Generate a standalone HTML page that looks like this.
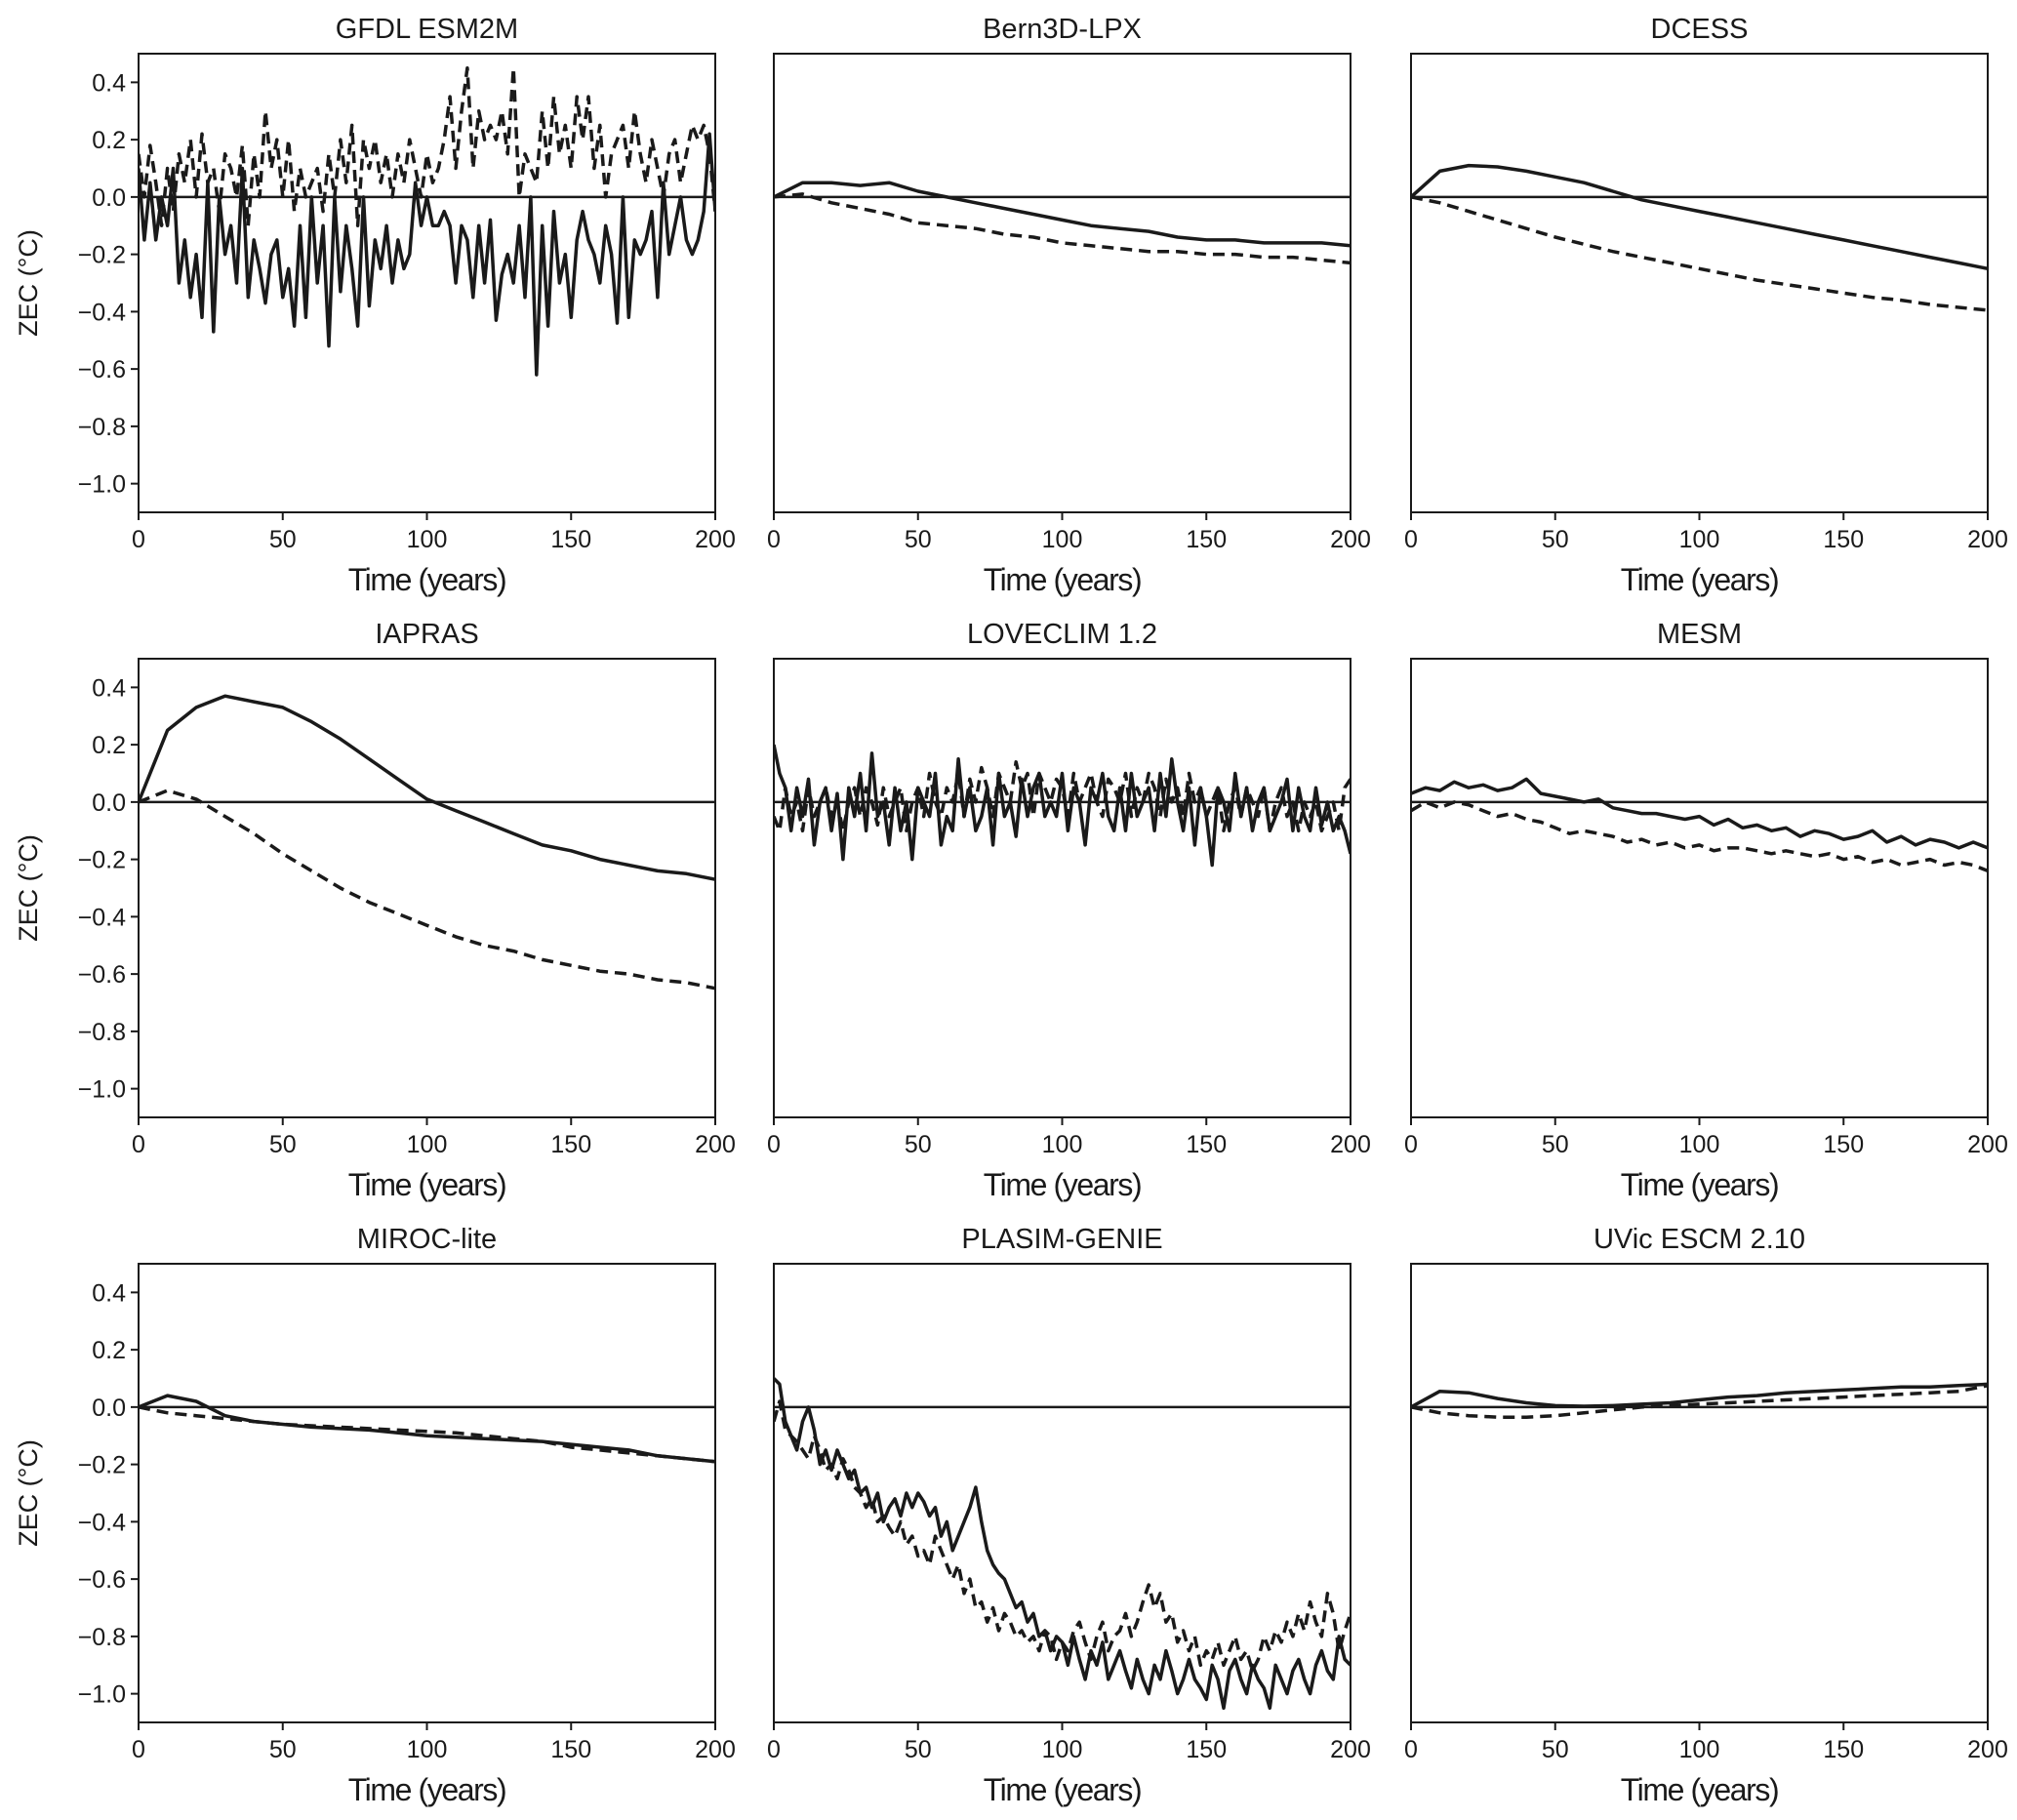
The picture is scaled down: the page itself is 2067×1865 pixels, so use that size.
<!DOCTYPE html>
<html><head><meta charset="utf-8">
<style>
html,body{margin:0;padding:0;background:#fff;}
svg{display:block;font-family:"Liberation Sans",sans-serif;}
</style></head>
<body>
<svg id="fig" width="2067" height="1865" viewBox="0 0 2067 1865" xmlns="http://www.w3.org/2000/svg"></svg>
<script>
const xTicks=[0,50,100,150,200];
const yTicks=[0.4,0.2,0.0,-0.2,-0.4,-0.6,-0.8,-1.0];
const yTickLabels=["0.4","0.2","0.0","\u22120.2","\u22120.4","\u22120.6","\u22120.8","\u22121.0"];
const panelTitles=["GFDL ESM2M","Bern3D-LPX","DCESS","IAPRAS","LOVECLIM 1.2","MESM","MIROC-lite","PLASIM-GENIE","UVic ESCM 2.10"];
const gfdlSolid=[0.1,-0.15,0.05,-0.15,0.0,-0.1,0.1,-0.3,-0.15,-0.35,-0.2,-0.42,0.05,-0.47,0.0,-0.2,-0.1,-0.3,0.1,-0.35,-0.15,-0.25,-0.37,-0.2,-0.15,-0.35,-0.25,-0.45,-0.1,-0.42,0.0,-0.3,-0.1,-0.52,0.0,-0.33,-0.1,-0.25,-0.45,0.0,-0.38,-0.15,-0.25,-0.1,-0.3,-0.15,-0.25,-0.2,0.05,-0.1,0.0,-0.1,-0.1,-0.05,-0.1,-0.3,-0.1,-0.15,-0.35,-0.1,-0.3,-0.08,-0.43,-0.27,-0.2,-0.3,-0.1,-0.35,0.0,-0.62,-0.1,-0.45,-0.05,-0.3,-0.2,-0.42,-0.15,-0.05,-0.15,-0.2,-0.3,-0.1,-0.2,-0.44,0.0,-0.42,-0.15,-0.2,-0.15,-0.05,-0.35,0.05,-0.2,-0.1,0.0,-0.15,-0.2,-0.15,-0.05,0.22,-0.05];
const gfdlDashed=[0.15,0.0,0.18,0.05,-0.1,0.1,-0.05,0.15,0.05,0.2,0.0,0.22,0.05,0.1,-0.05,0.15,0.1,0.0,0.18,-0.1,0.15,0.0,0.3,0.1,0.2,0.0,0.2,-0.05,0.1,0.0,0.05,0.1,-0.05,0.15,0.0,0.2,0.05,0.25,-0.1,0.2,0.1,0.2,0.05,0.15,0.0,0.15,0.05,0.2,0.1,0.0,0.15,0.05,0.1,0.2,0.35,0.1,0.3,0.45,0.1,0.3,0.2,0.25,0.2,0.3,0.15,0.45,0.0,0.15,0.1,0.05,0.3,0.1,0.35,0.15,0.25,0.1,0.35,0.2,0.35,0.1,0.25,0.0,0.15,0.2,0.25,0.1,0.3,0.15,0.05,0.2,0.1,0.0,0.15,0.2,0.05,0.15,0.25,0.2,0.25,0.15,-0.05];
const bernSolid=[0,0.05,0.05,0.04,0.05,0.02,0.0,-0.02,-0.04,-0.06,-0.08,-0.1,-0.11,-0.12,-0.14,-0.15,-0.15,-0.16,-0.16,-0.16,-0.17];
const bernDashed=[0,0.01,-0.02,-0.04,-0.06,-0.09,-0.1,-0.11,-0.13,-0.14,-0.16,-0.17,-0.18,-0.19,-0.19,-0.2,-0.2,-0.21,-0.21,-0.22,-0.23];
const dcessSolid=[0,0.09,0.11,0.105,0.09,0.07,0.05,0.02,-0.01,-0.03,-0.05,-0.07,-0.09,-0.11,-0.13,-0.15,-0.17,-0.19,-0.21,-0.23,-0.25];
const dcessDashed=[0,-0.02,-0.05,-0.08,-0.11,-0.14,-0.165,-0.19,-0.21,-0.23,-0.25,-0.27,-0.29,-0.305,-0.32,-0.335,-0.35,-0.36,-0.375,-0.385,-0.395];
const iaprasSolid=[0,0.25,0.33,0.37,0.35,0.33,0.28,0.22,0.15,0.08,0.01,-0.03,-0.07,-0.11,-0.15,-0.17,-0.2,-0.22,-0.24,-0.25,-0.27];
const iaprasDashed=[0,0.04,0.01,-0.05,-0.11,-0.18,-0.24,-0.3,-0.35,-0.39,-0.43,-0.47,-0.5,-0.52,-0.55,-0.57,-0.59,-0.6,-0.62,-0.63,-0.65];
const loveSolid=[0.2,0.1,0.05,-0.1,0.05,-0.05,0.08,-0.15,0.0,0.05,-0.1,0.03,-0.2,0.05,-0.05,0.1,-0.1,0.17,-0.05,0.0,-0.15,0.05,-0.1,0.0,-0.2,0.05,0.0,-0.05,0.1,-0.15,-0.05,-0.1,0.15,-0.05,0.05,-0.1,-0.05,0.05,-0.15,0.1,-0.05,0.0,-0.12,0.08,-0.05,0.05,0.1,-0.05,0.0,-0.05,0.1,-0.1,0.05,0.0,-0.15,0.05,0.0,0.1,-0.05,-0.1,0.05,-0.1,0.1,-0.05,0.0,0.05,-0.1,0.1,-0.05,0.15,0.0,-0.1,0.05,-0.15,0.05,-0.05,-0.22,0.05,0.0,-0.1,0.1,-0.05,0.05,-0.1,0.0,0.05,-0.1,-0.05,0.0,0.08,-0.1,0.05,-0.05,-0.1,0.05,-0.08,0.0,-0.1,-0.05,-0.1,-0.18];
const loveDashed=[-0.05,-0.1,0.05,-0.05,0.0,-0.1,0.05,-0.05,0.0,0.05,-0.05,0.0,-0.1,0.0,0.05,-0.05,0.05,0.0,-0.08,0.05,-0.05,0.0,0.05,-0.1,0.0,0.05,-0.05,0.1,0.0,-0.05,0.05,0.0,0.1,-0.05,0.08,0.0,0.12,0.05,-0.05,0.1,0.05,0.0,0.14,0.05,0.1,-0.05,0.1,0.05,0.0,0.08,0.05,-0.05,0.1,0.0,0.05,0.1,0.0,-0.05,0.08,0.05,0.0,0.1,-0.05,0.05,0.0,0.1,0.05,-0.05,0.08,0.0,0.05,-0.05,0.1,0.0,0.05,-0.05,0.0,0.05,-0.1,0.0,0.05,-0.05,0.05,0.0,-0.05,0.05,-0.1,0.0,0.05,-0.05,0.0,-0.1,0.0,-0.05,0.0,-0.1,-0.05,0.0,-0.1,0.05,0.08];
const mesmSolid=[0.03,0.05,0.04,0.07,0.05,0.06,0.04,0.05,0.08,0.03,0.02,0.01,0.0,0.01,-0.02,-0.03,-0.04,-0.04,-0.05,-0.06,-0.05,-0.08,-0.06,-0.09,-0.08,-0.1,-0.09,-0.12,-0.1,-0.11,-0.13,-0.12,-0.1,-0.14,-0.12,-0.15,-0.13,-0.14,-0.16,-0.14,-0.16];
const mesmDashed=[-0.03,0.0,-0.02,0.0,-0.01,-0.03,-0.05,-0.04,-0.06,-0.07,-0.09,-0.11,-0.1,-0.11,-0.12,-0.14,-0.13,-0.15,-0.14,-0.16,-0.15,-0.17,-0.16,-0.16,-0.17,-0.18,-0.17,-0.18,-0.19,-0.18,-0.2,-0.19,-0.21,-0.2,-0.22,-0.21,-0.2,-0.22,-0.21,-0.22,-0.24];
const mirocSolid=[0,0.04,0.02,-0.03,-0.05,-0.06,-0.07,-0.075,-0.08,-0.09,-0.1,-0.105,-0.11,-0.115,-0.12,-0.13,-0.14,-0.15,-0.17,-0.18,-0.19];
const mirocDashed=[0,-0.02,-0.03,-0.04,-0.05,-0.06,-0.065,-0.07,-0.075,-0.08,-0.085,-0.09,-0.1,-0.11,-0.12,-0.14,-0.15,-0.16,-0.17,-0.18,-0.19];
const plasimSolid=[0.1,0.08,-0.05,-0.1,-0.15,-0.05,0.0,-0.08,-0.2,-0.15,-0.22,-0.15,-0.2,-0.25,-0.22,-0.3,-0.28,-0.35,-0.3,-0.4,-0.35,-0.32,-0.38,-0.3,-0.35,-0.3,-0.33,-0.38,-0.35,-0.45,-0.4,-0.5,-0.45,-0.4,-0.35,-0.28,-0.4,-0.5,-0.55,-0.58,-0.6,-0.65,-0.7,-0.68,-0.75,-0.72,-0.8,-0.78,-0.85,-0.8,-0.82,-0.9,-0.8,-0.88,-0.95,-0.85,-0.9,-0.82,-0.95,-0.9,-0.85,-0.92,-0.98,-0.88,-0.95,-1.0,-0.9,-0.95,-0.85,-0.92,-1.0,-0.95,-0.88,-0.95,-0.98,-1.02,-0.9,-0.95,-1.05,-0.92,-0.88,-0.95,-1.0,-0.9,-0.95,-0.98,-1.05,-0.9,-0.95,-1.0,-0.92,-0.88,-0.95,-1.0,-0.9,-0.85,-0.92,-0.95,-0.8,-0.88,-0.9];
const plasimDashed=[-0.05,0.02,-0.08,-0.1,-0.12,-0.15,-0.18,-0.1,-0.15,-0.22,-0.2,-0.25,-0.18,-0.22,-0.28,-0.3,-0.35,-0.32,-0.4,-0.38,-0.42,-0.45,-0.4,-0.48,-0.45,-0.52,-0.5,-0.55,-0.45,-0.5,-0.55,-0.6,-0.55,-0.65,-0.6,-0.7,-0.68,-0.75,-0.7,-0.78,-0.72,-0.75,-0.8,-0.78,-0.82,-0.8,-0.85,-0.78,-0.8,-0.88,-0.82,-0.85,-0.78,-0.75,-0.82,-0.88,-0.8,-0.75,-0.85,-0.8,-0.78,-0.72,-0.8,-0.75,-0.68,-0.62,-0.7,-0.65,-0.75,-0.72,-0.82,-0.78,-0.85,-0.8,-0.9,-0.85,-0.88,-0.82,-0.9,-0.85,-0.8,-0.88,-0.85,-0.92,-0.88,-0.8,-0.85,-0.78,-0.82,-0.75,-0.8,-0.72,-0.78,-0.68,-0.75,-0.8,-0.65,-0.72,-0.85,-0.78,-0.72];
const uvicSolid=[0,0.055,0.05,0.03,0.015,0.005,0.003,0.005,0.01,0.015,0.025,0.035,0.04,0.05,0.055,0.06,0.065,0.07,0.07,0.075,0.08];
const uvicDashed=[0,-0.02,-0.03,-0.035,-0.035,-0.03,-0.02,-0.01,0.0,0.005,0.01,0.015,0.02,0.025,0.03,0.035,0.04,0.045,0.05,0.055,0.075];
const solidSeries=[gfdlSolid,bernSolid,dcessSolid,iaprasSolid,loveSolid,mesmSolid,mirocSolid,plasimSolid,uvicSolid];
const dashedSeries=[gfdlDashed,bernDashed,dcessDashed,iaprasDashed,loveDashed,mesmDashed,mirocDashed,plasimDashed,uvicDashed];

const NS="http://www.w3.org/2000/svg";
const fig=document.getElementById('fig');
const colX=[142,793,1446], rowY=[55,675,1295], PW=591, PH=470;
const Y0=0.5,Y1=-1.1,X0=0,X1=200;
function mk(tag,attrs,parent){const e=document.createElementNS(NS,tag);for(const k in attrs)e.setAttribute(k,attrs[k]);parent.appendChild(e);return e;}
function slug(s){return s.toLowerCase().replace(/[^a-z0-9]+/g,'-').replace(/^-|-$/g,'');}

panelTitles.forEach((title,i)=>{
  const r=Math.floor(i/3), c=i%3;
  const L=colX[c], T=rowY[r];
  const sx=v=>L+(v-X0)/(X1-X0)*PW;
  const sy=v=>T+(Y0-v)/(Y0-Y1)*PH;
  const g=mk('g',{},fig);
  
  
  const t=mk('text',{x:L+PW/2,y:T-16,'text-anchor':'middle','font-size':29,fill:'#1a1a1a'},g);
  t.textContent=title;
  
  
  const z=mk('line',{x1:L,x2:L+PW,y1:sy(0),y2:sy(0),stroke:'#1a1a1a','stroke-width':2.4},g);
  
  
  const clip=mk('clipPath',{id:'clip'+i},g);
  mk('rect',{x:L,y:T,width:PW,height:PH},clip);
  [[dashedSeries[i],'12,7','dashed-series'],[solidSeries[i],null,'solid-series']].forEach(([arr,dash,nm])=>{
    const n=arr.length;
    const pts=arr.map((v,k)=>sx(X0+(X1-X0)*k/(n-1)).toFixed(1)+','+sy(v).toFixed(1)).join(' ');
    const p=mk('polyline',{points:pts,fill:'none',stroke:'#1a1a1a','stroke-width':3.5,'stroke-linejoin':'round','clip-path':'url(#clip'+i+')'},g);
    if(dash)p.setAttribute('stroke-dasharray',dash);
    
    
  });
  const fr=mk('rect',{x:L,y:T,width:PW,height:PH,fill:'none',stroke:'#1a1a1a','stroke-width':2},g);
  
  
  xTicks.forEach(v=>{
    mk('line',{x1:sx(v),x2:sx(v),y1:T+PH,y2:T+PH+8,stroke:'#1a1a1a','stroke-width':2},g);
    const tl=mk('text',{x:sx(v),y:T+PH+36,'text-anchor':'middle','font-size':25,fill:'#1a1a1a'},g);
    tl.textContent=String(v);
    
    
  });
  const xl=mk('text',{x:L+PW/2,y:T+PH+80,'text-anchor':'middle','font-size':32,'letter-spacing':'-1.4',fill:'#1a1a1a'},g);
  xl.textContent='Time (years)';
  
  
  if(c===0){
    yTicks.forEach((v,k)=>{
      mk('line',{x1:L-8,x2:L,y1:sy(v),y2:sy(v),stroke:'#1a1a1a','stroke-width':2},g);
      const yl=mk('text',{x:L-13,y:sy(v)+9,'text-anchor':'end','font-size':25,fill:'#1a1a1a'},g);
      yl.textContent=yTickLabels[k];
      
      
    });
    const yt=mk('text',{x:0,y:0,'text-anchor':'middle','font-size':27,fill:'#1a1a1a',transform:'translate(38,'+(T+PH/2)+') rotate(-90)'},g);
    yt.textContent='ZEC (\u00B0C)';
    
    
  }
});
</script>
</body></html>
